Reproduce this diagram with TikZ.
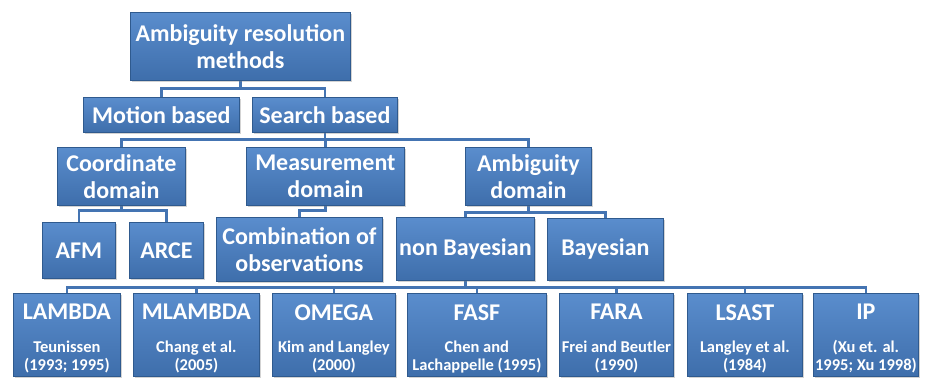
\documentclass[tikz,border=0pt]{standalone}
\usepackage{fontspec}
\setmainfont{Carlito}
\usetikzlibrary{shadows,backgrounds}
\definecolor{boxtop}{HTML}{5A8DCD}
\definecolor{boxbot}{HTML}{3E6EAB}
\definecolor{boxedge}{HTML}{2F5A8E}
\definecolor{connblue}{HTML}{4474B2}
\tikzset{
  box/.style={draw=boxedge, line width=0.8pt, top color=boxtop, bottom color=boxbot,
    text=white, font=\bfseries\fontsize{24}{27}\selectfont, align=center,
    inner sep=0pt, anchor=north west,
    drop shadow={shadow xshift=2pt, shadow yshift=-2pt, opacity=0.35}},
  leaf/.style={box, minimum height=83pt},
  conn/.style={draw=connblue, line width=2.6pt},
}
\newcommand{\leaftext}[4]{\parbox[c][83pt][t]{#1}{\centering\vspace*{11pt}%
  {\fontsize{24}{24}\selectfont #2\par}\vspace{14.5pt}%
  {\fontsize{16.5}{18}\selectfont #3\\#4\par}}}
\begin{document}
\begin{tikzpicture}[x=1pt,y=-1pt]
\useasboundingbox (0,0) rectangle (927,379);
\node[box, minimum width=220pt, minimum height=68pt] (root) at (130,12) {Ambiguity resolution\\methods};
\node[box, minimum width=156pt, minimum height=35pt] (motion) at (83,97) {Motion based};
\node[box, minimum width=145pt, minimum height=35pt] (search) at (252,97) {Search based};
\node[box, minimum width=128pt, minimum height=58pt] (coord) at (57,147) {Coordinate\\domain};
\node[box, minimum width=158pt, minimum height=58pt] (meas) at (246,147) {Measurement\\domain};
\node[box, minimum width=126pt, minimum height=58pt] (ambig) at (465,147) {Ambiguity\\domain};
\node[box, minimum width=73pt, minimum height=56pt] (afm) at (42,222) {AFM};
\node[box, minimum width=74pt, minimum height=56pt] (arce) at (129,222) {ARCE};
\node[box, minimum width=166pt, minimum height=64pt] (comb) at (216,217) {Combination of\\observations};
\node[box, minimum width=138pt, minimum height=63pt] (nonb) at (396,217) {non Bayesian};
\node[box, minimum width=116pt, minimum height=62pt] (bayes) at (547,218) {Bayesian};
\node[leaf, minimum width=107pt] (lambda) at (13,293) {\leaftext{107pt}{LAMBDA}{Teunissen}{(1993; 1995)}};
\node[leaf, minimum width=126pt] (mlambda) at (133,293) {\leaftext{126pt}{MLAMBDA}{Chang et al.}{(2005)}};
\node[leaf, minimum width=123pt] (omega) at (272,293) {\leaftext{123pt}{OMEGA}{Kim and Langley}{(2000)}};
\node[leaf, minimum width=139pt] (fasf) at (407,293) {\leaftext{139pt}{FASF}{Chen and}{Lachappelle (1995)}};
\node[leaf, minimum width=114pt] (fara) at (559,293) {\leaftext{114pt}{FARA}{Frei and Beutler}{(1990)}};
\node[leaf, minimum width=115pt] (lsast) at (687,293) {\leaftext{115pt}{LSAST}{Langley et al.}{(1984)}};
\node[leaf, minimum width=105pt] (ip) at (813,293) {\leaftext{105pt}{IP}{(Xu et. al.}{1995; Xu 1998)}};
\begin{scope}[on background layer]
\draw[conn] (root.south) -- ++(0,8) -| (motion.north);
\draw[conn] (root.south) -- ++(0,8) -| (search.north);
\foreach \c in {coord,meas,ambig}
  \draw[conn] (search.south) -- ++(0,7) -| (\c.north);
\foreach \c in {afm,arce}
  \draw[conn] (coord.south) -- ++(0,5) -| (\c.north);
\draw[conn] (meas.south) -- ++(0,5) -| (comb.north);
\foreach \c in {nonb,bayes}
  \draw[conn] (ambig.south) -- ++(0,7) -| (\c.north);
\foreach \c in {lambda,mlambda,omega,fasf,fara,lsast,ip}
  \draw[conn] (nonb.south) -- ++(0,7) -| (\c.north);
\end{scope}
\end{tikzpicture}
\end{document}
